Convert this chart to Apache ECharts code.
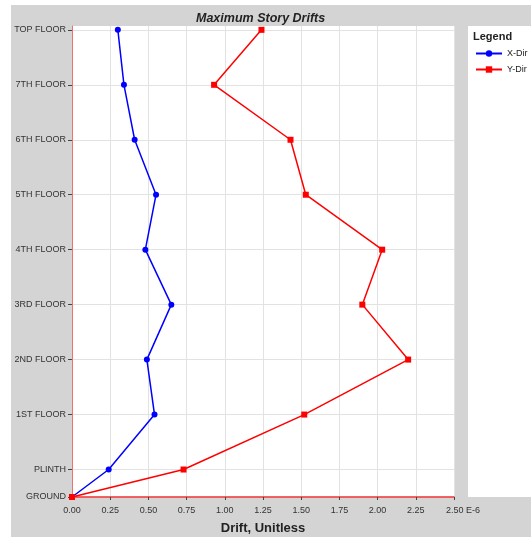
<!DOCTYPE html>
<html><head><meta charset="utf-8">
<script src="https://cdn.jsdelivr.net/npm/echarts@6/dist/echarts.min.js"></script>
<style>html,body{margin:0;padding:0;background:#fff}#c{width:531px;height:537px}</style>
</head><body><div id="c"></div>
<script>
var floorNames = ['GROUND','PLINTH','1ST FLOOR','2ND FLOOR','3RD FLOOR','4TH FLOOR','5TH FLOOR','6TH FLOOR','7TH FLOOR','TOP FLOOR'];
var floorLevels = [0, 0.5, 1.5, 2.5, 3.5, 4.5, 5.5, 6.5, 7.5, 8.5];
var xDir = [0, 0.24, 0.54, 0.49, 0.65, 0.48, 0.55, 0.41, 0.34, 0.30];
var yDir = [0, 0.73, 1.52, 2.20, 1.90, 2.03, 1.53, 1.43, 0.93, 1.24];
var xTicks = [0, 0.25, 0.5, 0.75, 1, 1.25, 1.5, 1.75, 2, 2.25, 2.5];

var chart = echarts.init(document.getElementById('c'), null, {renderer:'canvas'});
function pairs(vals){ return vals.map(function(v,i){ return [v, floorLevels[i]]; }); }
var font = 'Liberation Sans, Arial, sans-serif';
chart.setOption({
  animation: false,
  backgroundColor: '#ffffff',
  graphic: [
    {type:'rect', left:11, top:5, shape:{width:520, height:532}, style:{fill:'#d4d4d4'}, z:-10, silent:true},
    {type:'rect', left:468, top:26, shape:{width:63, height:471}, style:{fill:'#ffffff'}, z:-5, silent:true},
    {type:'text', left:473, top:31, style:{text:'Legend', font:'bold 11px '+font, fill:'#222'}, z:10}
  ],
  title: {
    text: 'Maximum Story Drifts', left: 191, top: 7,
    textStyle: {fontFamily: font, fontSize: 12.5, fontWeight: 'bold', fontStyle: 'italic', color: '#222'}
  },
  legend: {
    orient: 'vertical', left: 470, top: 44, itemWidth: 26, itemHeight: 8, itemGap: 7,
    textStyle: {fontFamily: font, fontSize: 9, color: '#222'},
    data: ['X-Dir','Y-Dir']
  },
  grid: {left: 72, right: 77, top: 26, bottom: 40, show: true, backgroundColor: '#ffffff', borderWidth: 0, containLabel: false, outerBoundsMode: 'none'},
  xAxis: {
    type: 'value', min: 0, max: 2.5, interval: 0.25,
    name: 'Drift, Unitless', nameLocation: 'middle', nameGap: 25,
    nameTextStyle: {fontFamily: font, fontSize: 13, fontWeight: 'bold', color: '#222'},
    axisLine: {show: true, lineStyle: {color: '#f03030', width: 1.5}},
    axisTick: {show: true, length: 3, lineStyle: {color: '#444'}},
    axisLabel: {
      fontFamily: font, fontSize: 9, color: '#333', margin: 9, hideOverlap: false,
      formatter: function(v){ return v === 2.5 ? '{e|2.50 E-6}' : v.toFixed(2); },
      rich: {e: {fontFamily: font, fontSize: 9, color: '#333', padding: [0,0,0,18]}}
    },
    splitLine: {show: true, lineStyle: {color: '#e2e2e2', width: 1}}
  },
  yAxis: {
    type: 'value', min: 0, max: 8.57,
    axisLine: {show: true, lineStyle: {color: '#f07070', width: 1}},
    axisTick: {show: true, length: 4, customValues: floorLevels, lineStyle: {color: '#444'}},
    axisLabel: {
      fontFamily: font, fontSize: 9, color: '#333', margin: 6, customValues: floorLevels,
      formatter: function(v){ var i = floorLevels.indexOf(v); return i >= 0 ? floorNames[i] : ''; }
    },
    splitLine: {show: true, lineStyle: {color: '#e2e2e2', width: 1}}
  },
  series: [
    {name: 'X-Dir', type: 'line', data: pairs(xDir), symbol: 'circle', symbolSize: 6,
     itemStyle: {color: '#0000ff'}, lineStyle: {color: '#0000ff', width: 1.5}, z: 3},
    {name: 'Y-Dir', type: 'line', data: pairs(yDir), symbol: 'rect', symbolSize: 6,
     itemStyle: {color: '#ff0000'}, lineStyle: {color: '#ff0000', width: 1.5}, z: 4}
  ]
});
</script></body></html>
